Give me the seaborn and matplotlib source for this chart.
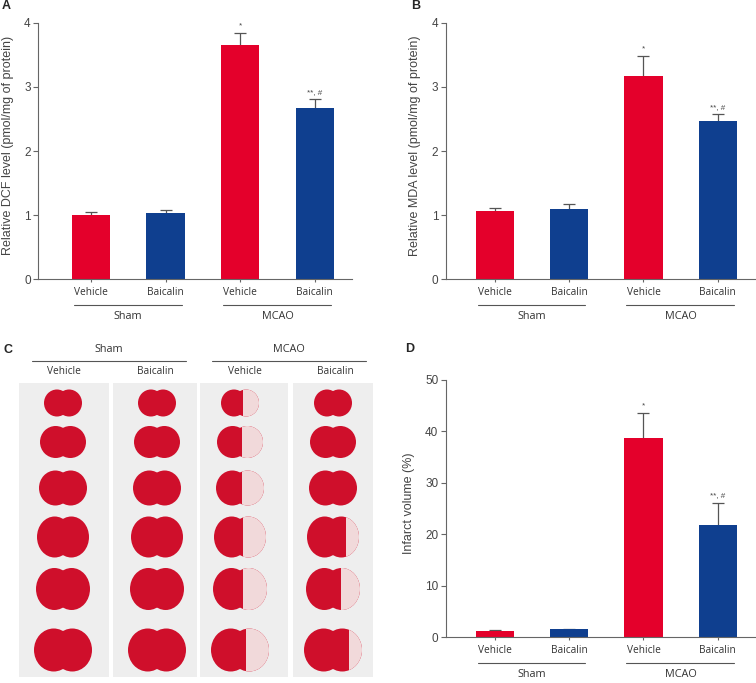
import matplotlib
matplotlib.use("Agg")
import matplotlib.pyplot as plt
import matplotlib.patches as mpatches
import pandas as pd
import seaborn as sns

# ---- data ----
groups = ["Sham", "MCAO"]
treatments = ["Vehicle", "Baicalin", "Vehicle", "Baicalin"]
bar_ids = ["Sham Vehicle", "Sham Baicalin", "MCAO Vehicle", "MCAO Baicalin"]
bar_colors = ["#E4002B", "#0F3F8F", "#E4002B", "#0F3F8F"]
stars = ["", "", "*", "**, #"]

dcf_mean = [1.01, 1.04, 3.66, 2.67]
dcf_err = [0.04, 0.035, 0.18, 0.14]

mda_mean = [1.07, 1.09, 3.17, 2.46]
mda_err = [0.04, 0.08, 0.31, 0.11]

infarct_mean = [1.3, 1.55, 38.7, 21.8]
infarct_err = [0.1, 0.1, 4.9, 4.3]

# panel C: slice photo sketch (pixel units of the panel)
strip_x = [(19, 109), (113, 197), (200, 288), (293, 373)]
slice_cx = [63, 157, 240, 333]
slice_cy = [403, 442, 488, 537, 589, 650]
slice_w = [38, 46, 48, 52, 54, 58]
slice_h = [27, 32, 35, 41, 42, 43]
infarct_frac = [
    [0, 0, 0, 0, 0, 0],
    [0, 0, 0, 0, 0, 0],
    [0.42, 0.45, 0.45, 0.45, 0.45, 0.4],
    [0, 0, 0, 0.25, 0.35, 0.22],
]

sns.set_style("ticks")
plt.rcParams["font.family"] = ["Liberation Sans", "DejaVu Sans"]
CAT_FONT = ["Open Sans", "DejaVu Sans"]
AX_COL = "#666666"

W, H = 756, 683
fig = plt.figure(figsize=(W / 100, H / 100), dpi=100)


def px_axes(left, top, right, bottom):
    return fig.add_axes([left / W, 1 - bottom / H, (right - left) / W, (bottom - top) / H])


def bar_panel(ax, means, errs, ylim, yticks, ylabel, xleft, label_dx):
    df = pd.DataFrame({"grp": bar_ids, "val": means})
    sns.barplot(data=df, x="grp", y="val", hue="grp", palette=bar_colors,
                order=bar_ids, hue_order=bar_ids, width=0.515, linewidth=0,
                saturation=1, legend=False, ax=ax, zorder=2)
    ax.errorbar(range(4), means, yerr=errs, fmt="none", ecolor="#555555",
                elinewidth=0.9, capsize=4, capthick=0.9, zorder=1)
    for i, s in enumerate(stars):
        if s:
            ax.annotate(s, xy=(i, means[i] + errs[i]), xytext=(0, 2.5),
                        textcoords="offset points", ha="center", va="bottom",
                        fontsize=5.8, color="#444444")
    ax.set_xlim(xleft, 3.5)
    ax.set_ylim(*ylim)
    ax.set_yticks(yticks)
    ax.set_xticks(range(4))
    ax.set_xticklabels(treatments, fontsize=7.3, color="#333333", family=CAT_FONT)
    ax.tick_params(axis="y", labelsize=8.5, colors="#444444", length=3.3, width=0.8,
                   color=AX_COL, pad=2)
    ax.tick_params(axis="x", length=2.5, width=0.8, color=AX_COL, pad=3)
    ax.set_xlabel("")
    ax.set_ylabel(ylabel, fontsize=9, color="#444444", va="center")
    ax.yaxis.set_label_coords(label_dx, 0.52)
    sns.despine(ax=ax)
    for sp in ["left", "bottom"]:
        ax.spines[sp].set_color(AX_COL)
        ax.spines[sp].set_linewidth(0.8)
    trans = ax.get_xaxis_transform()
    h = ax.get_window_extent().height
    for g, name in enumerate(groups):
        a, b = 2 * g - 0.23, 2 * g + 1.22
        ax.plot([a, b], [-26 / h, -26 / h], color="#555555", lw=0.8,
                transform=trans, clip_on=False)
        ax.text((2 * g + 2 * g + 1) / 2, -37 / h, name, transform=trans,
                ha="center", va="center", fontsize=7.8, color="#333333",
                family=CAT_FONT)


axA = px_axes(38, 22.7, 352, 279.3)
bar_panel(axA, dcf_mean, dcf_err, (0, 4), [0, 1, 2, 3, 4],
          "Relative DCF level (pmol/mg of protein)", -0.71, -30 / 314)

axB = px_axes(445.7, 22.7, 755, 279.3)
bar_panel(axB, mda_mean, mda_err, (0, 4), [0, 1, 2, 3, 4],
          "Relative MDA level (pmol/mg of protein)", -0.66, -30.7 / 309)

axD = px_axes(445.7, 380, 755, 637.3)
bar_panel(axD, infarct_mean, infarct_err, (0, 50), [0, 10, 20, 30, 40, 50],
          "Infarct volume (%)", -0.66, -36.7 / 309)

# ---- panel C: schematic of TTC-stained slices ----
axC = px_axes(0, 340, 380, 683)
axC.set_xlim(0, 380)
axC.set_ylim(683, 340)
axC.axis("off")
for x0, x1 in strip_x:
    axC.add_patch(mpatches.Rectangle((x0, 383), x1 - x0, 294, color="#EEEEEE", lw=0))
brain_red, pale = "#CF0F2B", "#F1D9DA"
for c, cx in enumerate(slice_cx):
    for r, cy in enumerate(slice_cy):
        w, h = slice_w[r], slice_h[r]
        for side in (-1, 1):
            axC.add_patch(mpatches.Ellipse((cx + side * 0.16 * w, cy), 0.68 * w, h,
                                           color=brain_red, lw=0))
        f = infarct_frac[c][r]
        if f > 0:
            clip = mpatches.Rectangle((cx + w / 2 - f * w, cy - h), f * w + 2, 2 * h,
                                      transform=axC.transData)
            e = mpatches.Ellipse((cx + 0.16 * w, cy), 0.68 * w, h, color=pale, lw=0)
            axC.add_patch(e)
            e.set_clip_path(clip)
for g, name in enumerate(groups):
    a, b = (32, 186) if g == 0 else (212, 366)
    axC.plot([a, b], [361, 361], color="#555555", lw=0.8)
    axC.text((a + b) / 2, 350, name, ha="center", va="center", fontsize=7.8,
             color="#333333", family=CAT_FONT)
for cx, name in zip([64, 155, 245, 335], treatments):
    axC.text(cx, 372, name, ha="center", va="center", fontsize=7.3,
             color="#333333", family=CAT_FONT)

# panel letters
for x, y, s in [(2, 6, "A"), (411, 6, "B"), (4, 350, "C"), (405, 349, "D")]:
    fig.text(x / W, 1 - y / H, s, fontsize=9, fontweight="bold", ha="left", va="center")

fig.savefig("out.png", dpi=100)
